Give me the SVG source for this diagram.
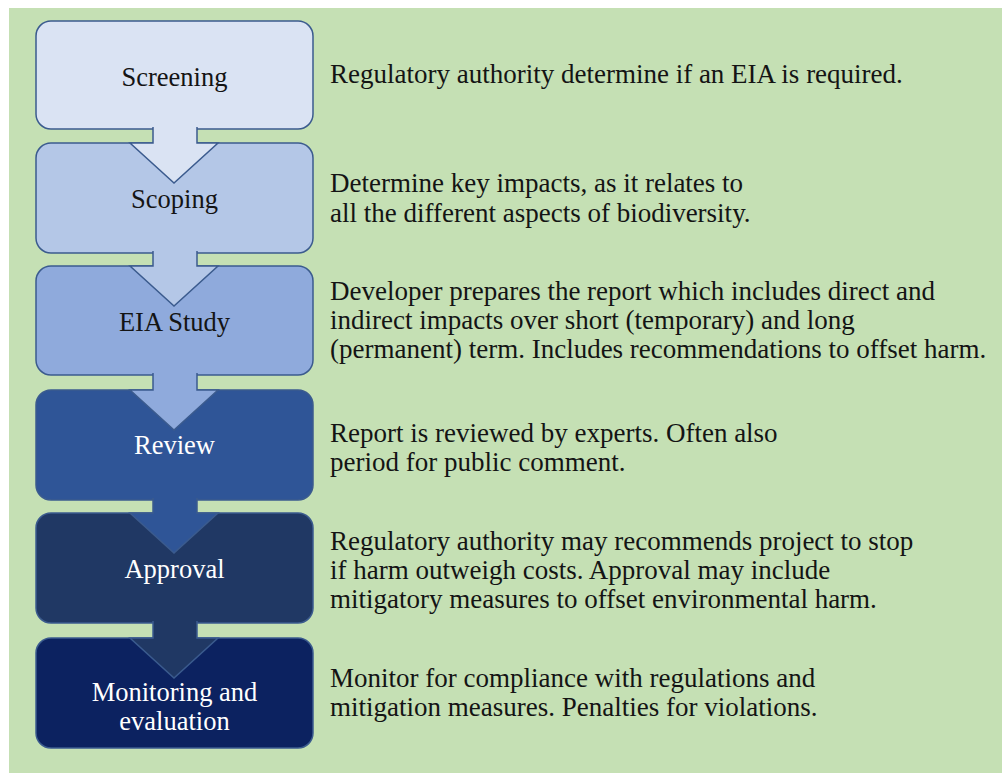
<svg xmlns="http://www.w3.org/2000/svg" width="1002" height="773" viewBox="0 0 1002 773">
<style>
.box{stroke:#3b5b8e;stroke-width:1.5}
.arr{stroke:#3b5b8e;stroke-width:1.5;stroke-linejoin:miter}
.lbl{font-family:"Liberation Serif","Times New Roman",serif;font-size:26.5px;text-anchor:middle}
.dark{fill:#141414}
.light{fill:#ffffff}
.desc{font-family:"Liberation Serif","Times New Roman",serif;font-size:27px;fill:#141414}
</style>
<rect x="0" y="0" width="1002" height="773" fill="#ffffff"/>
<rect x="9" y="8" width="993" height="765" fill="#c5e0b4"/>

<g id="screening">
<rect class="box" x="36" y="21" width="277" height="108" rx="15" fill="#dae3f3"/>
<text class="lbl dark" x="174.5" y="86">Screening</text>
</g>
<g id="scoping">
<rect class="box" x="36" y="143" width="277" height="110" rx="15" fill="#b4c7e7"/>
<text class="lbl dark" x="174.5" y="208">Scoping</text>
</g>
<g id="eia-study">
<rect class="box" x="36" y="266" width="277" height="109" rx="15" fill="#8faadc"/>
<text class="lbl dark" x="174.5" y="331">EIA Study</text>
</g>
<g id="review">
<rect class="box" x="36" y="390" width="277" height="110" rx="15" fill="#2f5597"/>
<text class="lbl light" x="174.5" y="454">Review</text>
</g>
<g id="approval">
<rect class="box" x="36" y="513" width="277" height="110" rx="15" fill="#203864"/>
<text class="lbl light" x="174.5" y="578">Approval</text>
</g>
<g id="monitoring">
<rect class="box" x="36" y="638" width="277" height="110" rx="15" fill="#0c2260"/>
<text class="lbl light" x="174.5" y="701">Monitoring and</text>
<text class="lbl light" x="174.5" y="730">evaluation</text>
</g>

<g id="connectors">
<path class="arr" fill="#dae3f3" d="M153,127 V143 H130 L174,183 L218,143 H197 V127"/>
<path class="arr" fill="#b4c7e7" d="M153,251 V266 H130 L174,306 L218,266 H197 V251"/>
<path class="arr" fill="#8faadc" d="M153,373 V390 H130 L174,430 L218,390 H197 V373"/>
<path class="arr" fill="#2f5597" d="M153,498 V513 H130 L174,553 L218,513 H197 V498"/>
<path class="arr" fill="#203864" d="M153,621 V638 H130 L174,678 L218,638 H197 V621"/>
</g>

<g id="descriptions">
<text class="desc" x="330" y="83">Regulatory authority determine if an EIA is required.</text>
<text class="desc" x="330" y="192">Determine key impacts, as it relates to</text>
<text class="desc" x="330" y="222">all the different aspects of biodiversity.</text>
<text class="desc" x="330" y="300">Developer prepares the report which includes direct and</text>
<text class="desc" x="330" y="329">indirect impacts over short (temporary) and long</text>
<text class="desc" x="330" y="358">(permanent) term. Includes recommendations to offset harm.</text>
<text class="desc" x="330" y="442">Report is reviewed by experts. Often also</text>
<text class="desc" x="330" y="471">period for public comment.</text>
<text class="desc" x="330" y="550">Regulatory authority may recommends project to stop</text>
<text class="desc" x="330" y="579">if harm outweigh costs. Approval may include</text>
<text class="desc" x="330" y="608">mitigatory measures to offset environmental harm.</text>
<text class="desc" x="330" y="687">Monitor for compliance with regulations and</text>
<text class="desc" x="330" y="716">mitigation measures. Penalties for violations.</text>
</g>
</svg>
